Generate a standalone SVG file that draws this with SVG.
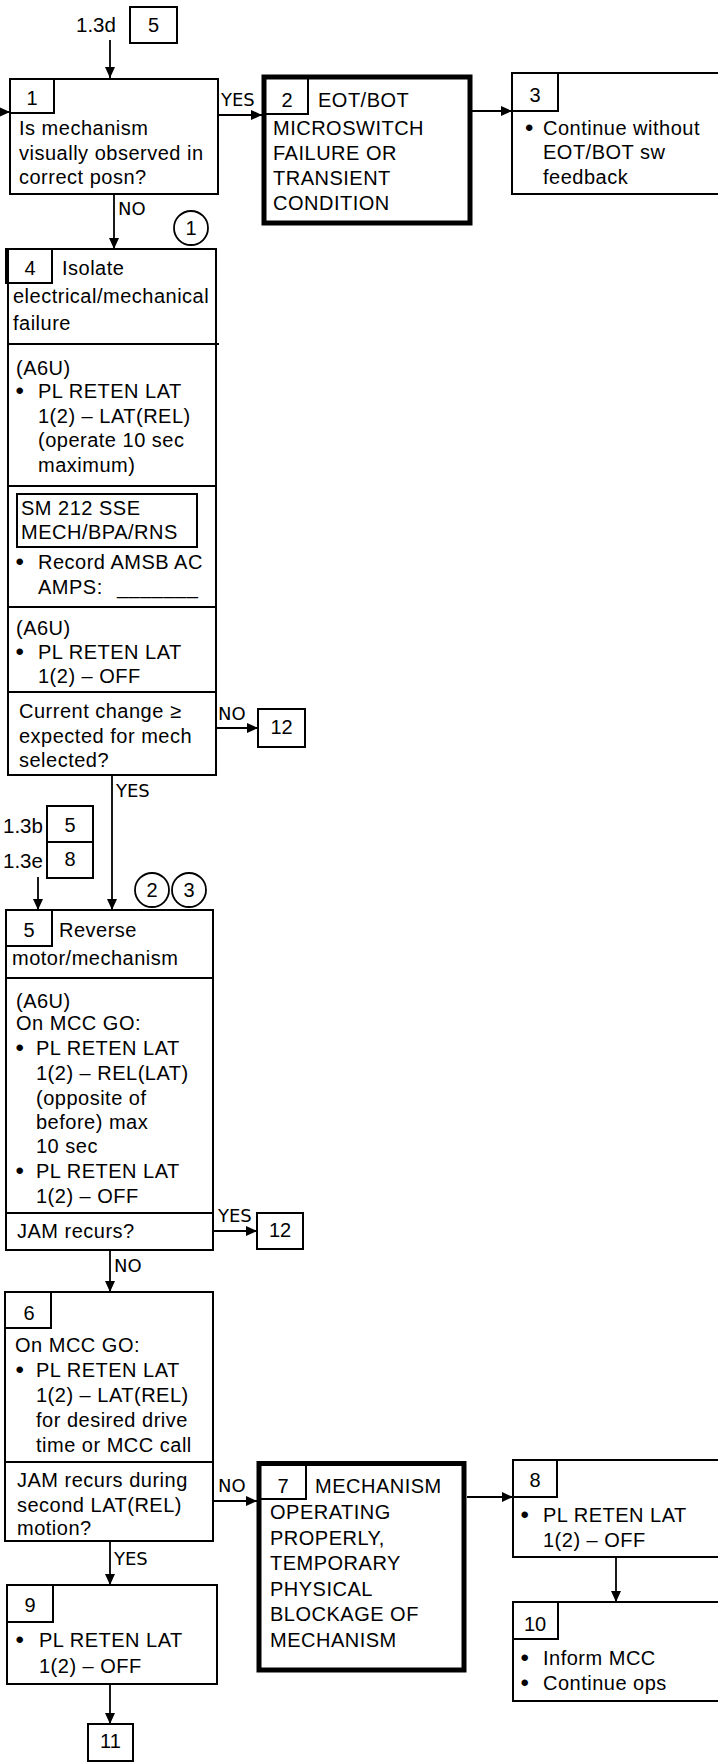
<svg xmlns="http://www.w3.org/2000/svg" width="718" height="1764" viewBox="0 0 718 1764">
<style>
.b{fill:#fff;stroke:#000;stroke-width:2}
.tab{fill:none;stroke:#000;stroke-width:2}
.k{fill:#fff;stroke:#000;stroke-width:5}
.t{font-family:"Liberation Sans",Arial,sans-serif;font-size:20px;letter-spacing:0.5px;fill:#000}
.m{text-anchor:middle;letter-spacing:0}
.d{font-size:24px;letter-spacing:0}
.x{font-family:"Liberation Sans",Arial,sans-serif;font-size:20.5px;fill:#000}
.lbl{font-family:"DejaVu Sans",sans-serif;font-size:18px;fill:#000}
.ln{stroke:#000;stroke-width:1.8;fill:none}
.cir{fill:#fff;stroke:#000;stroke-width:1.8}
</style>
<defs>
<marker id="ah" markerUnits="userSpaceOnUse" markerWidth="11" markerHeight="10" refX="11" refY="5" orient="auto">
<path d="M0,0 L11,5 L0,10 Z" fill="#000"/>
</marker>
</defs>

<g id="connectors">
<line class="ln" x1="110" y1="40" x2="110" y2="78" marker-end="url(#ah)"/>
<line class="ln" x1="0" y1="112" x2="10" y2="112" marker-end="url(#ah)"/>
<line class="ln" x1="218" y1="115" x2="262" y2="115" marker-end="url(#ah)"/>
<line class="ln" x1="472" y1="111" x2="512" y2="111" marker-end="url(#ah)"/>
<line class="ln" x1="114" y1="194" x2="114" y2="249" marker-end="url(#ah)"/>
<line class="ln" x1="216" y1="728" x2="258" y2="728" marker-end="url(#ah)"/>
<line class="ln" x1="112" y1="775" x2="112" y2="910" marker-end="url(#ah)"/>
<line class="ln" x1="38" y1="877" x2="38" y2="910" marker-end="url(#ah)"/>
<line class="ln" x1="213" y1="1231" x2="257" y2="1231" marker-end="url(#ah)"/>
<line class="ln" x1="110" y1="1250" x2="110" y2="1292" marker-end="url(#ah)"/>
<line class="ln" x1="213" y1="1501" x2="257" y2="1501" marker-end="url(#ah)"/>
<line class="ln" x1="110" y1="1541" x2="110" y2="1585" marker-end="url(#ah)"/>
<line class="ln" x1="110" y1="1684" x2="110" y2="1724" marker-end="url(#ah)"/>
<line class="ln" x1="467" y1="1497" x2="513" y2="1497" marker-end="url(#ah)"/>
<line class="ln" x1="616" y1="1557" x2="616" y2="1602" marker-end="url(#ah)"/>
<text class="lbl" x="221" y="106">YES</text>
<text class="lbl" x="118" y="215">NO</text>
<text class="lbl" x="218" y="720">NO</text>
<text class="lbl" x="116" y="797">YES</text>
<text class="lbl" x="218" y="1222">YES</text>
<text class="lbl" x="114" y="1272">NO</text>
<text class="lbl" x="218" y="1492">NO</text>
<text class="lbl" x="114" y="1565">YES</text>
</g>

<g id="entry-top">
<text class="x" x="76" y="32">1.3d</text>
<rect class="b" x="130" y="7" width="47" height="36"/>
<text class="t m" x="153.5" y="32">5</text>
</g>

<g id="node1">
<rect class="b" x="10" y="79" width="208" height="115"/>
<rect class="tab" x="10" y="79" width="44" height="34"/>
<text class="t m" x="32" y="105">1</text>
<text class="t" x="19" y="135">Is mechanism</text>
<text class="t" x="19" y="160">visually observed in</text>
<text class="t" x="19" y="184">correct posn?</text>
</g>

<g id="node2">
<rect class="k" x="264" y="77" width="206" height="146"/>
<rect class="tab" x="265" y="78" width="43" height="36"/>
<text class="t m" x="287" y="107">2</text>
<text class="t" x="318" y="107">EOT/BOT</text>
<text class="t" x="273" y="135">MICROSWITCH</text>
<text class="t" x="273" y="160">FAILURE OR</text>
<text class="t" x="273" y="185">TRANSIENT</text>
<text class="t" x="273" y="210">CONDITION</text>
</g>

<g id="node3">
<rect class="b" x="512" y="73" width="212" height="121"/>
<rect class="tab" x="512" y="73" width="46" height="38"/>
<text class="t m" x="535" y="102">3</text>
<text class="t d" x="525" y="136">•</text>
<text class="t" x="543" y="135">Continue without</text>
<text class="t" x="543" y="159">EOT/BOT sw</text>
<text class="t" x="543" y="184">feedback</text>
</g>

<g id="circle1">
<circle class="cir" cx="191" cy="228" r="17"/>
<text class="t m" x="191" y="235">1</text>
</g>

<g id="node4">
<rect class="b" x="8" y="249" width="208" height="526"/>
<rect class="tab" x="6" y="249" width="46" height="34"/>
<text class="t m" x="30" y="275">4</text>
<text class="t" x="62" y="275">Isolate</text>
<text class="t" x="13" y="303">electrical/mechanical</text>
<text class="t" x="13" y="330">failure</text>
<line class="ln" x1="8" y1="344" x2="219" y2="344" style="stroke-width:2"/>
<text class="t" x="16" y="375">(A6U)</text>
<text class="t d" x="15.5" y="399">•</text>
<text class="t" x="38" y="398">PL RETEN LAT</text>
<text class="t" x="38" y="423">1(2) – LAT(REL)</text>
<text class="t" x="38" y="447">(operate 10 sec</text>
<text class="t" x="38" y="472">maximum)</text>
<line class="ln" x1="8" y1="486" x2="216" y2="486" style="stroke-width:2"/>
<rect class="b" x="17" y="494" width="180" height="53"/>
<text class="t" x="21" y="515">SM 212 SSE</text>
<text class="t" x="21" y="539">MECH/BPA/RNS</text>
<text class="t d" x="15.5" y="570">•</text>
<text class="t" x="38" y="569">Record AMSB AC</text>
<text class="t" x="38" y="594">AMPS: <tspan x="117">_______</tspan></text>
<line class="ln" x1="8" y1="607" x2="216" y2="607" style="stroke-width:2"/>
<text class="t" x="16" y="635">(A6U)</text>
<text class="t d" x="15.5" y="660">•</text>
<text class="t" x="38" y="659">PL RETEN LAT</text>
<text class="t" x="38" y="683">1(2) – OFF</text>
<line class="ln" x1="8" y1="692" x2="216" y2="692" style="stroke-width:2"/>
<text class="t" x="19" y="718">Current change ≥</text>
<text class="t" x="19" y="743">expected for mech</text>
<text class="t" x="19" y="767">selected?</text>
</g>

<g id="node12a">
<rect class="b" x="258" y="709" width="47" height="38"/>
<text class="t m" x="281.5" y="734">12</text>
</g>

<g id="entry-mid">
<text class="x" x="3" y="833">1.3b</text>
<rect class="b" x="47" y="806" width="46" height="36"/>
<text class="t m" x="70" y="832">5</text>
<text class="x" x="3" y="868">1.3e</text>
<rect class="b" x="47" y="842" width="46" height="36"/>
<text class="t m" x="70" y="866">8</text>
</g>

<g id="circles23">
<circle class="cir" cx="152" cy="890" r="17"/>
<text class="t m" x="152" y="897">2</text>
<circle class="cir" cx="189" cy="890" r="17"/>
<text class="t m" x="189" y="897">3</text>
</g>

<g id="node5">
<rect class="b" x="6" y="910" width="207" height="340"/>
<rect class="tab" x="6" y="910" width="46" height="36"/>
<text class="t m" x="29" y="937">5</text>
<text class="t" x="59" y="937">Reverse</text>
<text class="t" x="12" y="965">motor/mechanism</text>
<line class="ln" x1="6" y1="978" x2="213" y2="978" style="stroke-width:2"/>
<text class="t" x="16" y="1008">(A6U)</text>
<text class="t" x="16" y="1030">On MCC GO:</text>
<text class="t d" x="15.5" y="1056">•</text>
<text class="t" x="36" y="1055">PL RETEN LAT</text>
<text class="t" x="36" y="1080">1(2) – REL(LAT)</text>
<text class="t" x="36" y="1105">(opposite of</text>
<text class="t" x="36" y="1129">before) max</text>
<text class="t" x="36" y="1153">10 sec</text>
<text class="t d" x="15.5" y="1179">•</text>
<text class="t" x="36" y="1178">PL RETEN LAT</text>
<text class="t" x="36" y="1203">1(2) – OFF</text>
<line class="ln" x1="6" y1="1213" x2="213" y2="1213" style="stroke-width:2"/>
<text class="t" x="17" y="1238">JAM recurs?</text>
</g>

<g id="node12b">
<rect class="b" x="257" y="1213" width="46" height="36"/>
<text class="t m" x="280" y="1237">12</text>
</g>

<g id="node6">
<rect class="b" x="5" y="1292" width="208" height="249"/>
<rect class="tab" x="5" y="1292" width="46" height="36"/>
<text class="t m" x="29" y="1320">6</text>
<text class="t" x="15" y="1352">On MCC GO:</text>
<text class="t d" x="15.5" y="1378">•</text>
<text class="t" x="36" y="1377">PL RETEN LAT</text>
<text class="t" x="36" y="1402">1(2) – LAT(REL)</text>
<text class="t" x="36" y="1427">for desired drive</text>
<text class="t" x="36" y="1452">time or MCC call</text>
<line class="ln" x1="5" y1="1462" x2="213" y2="1462" style="stroke-width:2"/>
<text class="t" x="17" y="1487">JAM recurs during</text>
<text class="t" x="17" y="1512">second LAT(REL)</text>
<text class="t" x="17" y="1535">motion?</text>
</g>

<g id="node7">
<rect class="k" x="259" y="1463.5" width="205" height="206.5"/>
<rect class="tab" x="260" y="1464.5" width="46" height="34.5"/>
<text class="t m" x="283" y="1493">7</text>
<text class="t" x="315" y="1493">MECHANISM</text>
<text class="t" x="270" y="1519">OPERATING</text>
<text class="t" x="270" y="1545">PROPERLY,</text>
<text class="t" x="270" y="1570">TEMPORARY</text>
<text class="t" x="270" y="1596">PHYSICAL</text>
<text class="t" x="270" y="1621">BLOCKAGE OF</text>
<text class="t" x="270" y="1647">MECHANISM</text>
</g>

<g id="node8">
<rect class="b" x="513" y="1460" width="212" height="97"/>
<rect class="tab" x="513" y="1460" width="44" height="37"/>
<text class="t m" x="535" y="1487">8</text>
<text class="t d" x="520.5" y="1523">•</text>
<text class="t" x="543" y="1522">PL RETEN LAT</text>
<text class="t" x="543" y="1547">1(2) – OFF</text>
</g>

<g id="node10">
<rect class="b" x="513" y="1602" width="212" height="99"/>
<rect class="tab" x="513" y="1602" width="45" height="37"/>
<text class="t m" x="535" y="1631">10</text>
<text class="t d" x="520.5" y="1666">•</text>
<text class="t" x="543" y="1665">Inform MCC</text>
<text class="t d" x="520.5" y="1691">•</text>
<text class="t" x="543" y="1690">Continue ops</text>
</g>

<g id="node9">
<rect class="b" x="7" y="1585" width="210" height="99"/>
<rect class="tab" x="7" y="1585" width="46" height="37"/>
<text class="t m" x="30" y="1612">9</text>
<text class="t d" x="15.5" y="1648">•</text>
<text class="t" x="39" y="1647">PL RETEN LAT</text>
<text class="t" x="39" y="1673">1(2) – OFF</text>
</g>

<g id="node11">
<rect class="b" x="88" y="1724" width="45" height="37"/>
<text class="t m" x="110.5" y="1748">11</text>
</g>
</svg>
